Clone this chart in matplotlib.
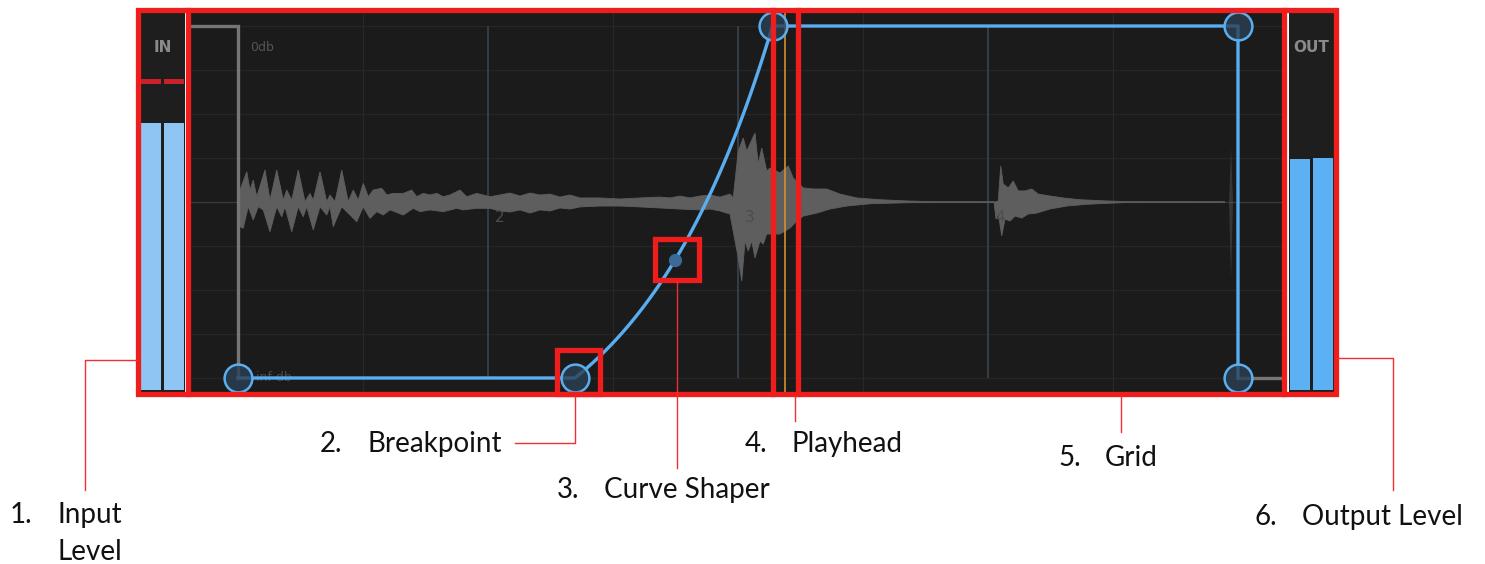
import numpy as np
import matplotlib.pyplot as plt
from matplotlib.patches import Rectangle

W, H = 1485, 564

# envelope editor data: x in beats, y in level (0 = inf db, 1 = 0 db)
env_beats = [1.0, 2.348, 3.138, 5.0, 5.0]
env_levels = [0.0, 0.0, 1.0, 1.0, 0.0]
shaper_beat = 2.748
shaper_level = 0.335
idle_pre_beats = [0.80, 1.0, 1.0]
idle_pre_levels = [1.0, 1.0, 0.0]
idle_post_beats = [5.0, 5.19]
idle_post_levels = [0.0, 0.0]
playhead_beat = 3.188

major_beats = [2, 3, 4]
beat_labels = ['2', '3', '4']
minor_beats = [1.5, 2.5, 3.5, 4.5]
level_lines = [0, 0.125, 0.25, 0.375, 0.5, 0.625, 0.75, 0.875, 1.0]

# waveform peaks: (beat, amplitude above / below centre, 1 = full)
wave_top = [(1.0, 0), (1.008, 0.068), (1.035, 0.172), (1.048, 0.068), (1.061, 0.125),
            (1.075, 0.030), (1.108, 0.182), (1.128, 0.011), (1.155, 0.182), (1.181, 0.011),
            (1.195, 0.068), (1.215, 0.011), (1.241, 0.182), (1.268, 0.002), (1.288, 0.049),
            (1.301, 0.011), (1.328, 0.172), (1.355, 0.002), (1.368, 0.040), (1.388, 0.002),
            (1.415, 0.182), (1.441, 0.002), (1.461, 0.068), (1.481, 0.011), (1.501, 0.106),
            (1.521, 0.030), (1.541, 0.068), (1.575, 0.078), (1.595, 0.040), (1.621, 0.049),
            (1.661, 0.049), (1.695, 0.068), (1.715, 0.030), (1.741, 0.049), (1.768, 0.040),
            (1.795, 0.049), (1.821, 0.030), (1.848, 0.040), (1.888, 0.068), (1.915, 0.030),
            (1.955, 0.049), (2.008, 0.030), (2.048, 0.040), (2.088, 0.051), (2.128, 0.034),
            (2.168, 0.051), (2.208, 0.040), (2.248, 0.045), (2.288, 0.028), (2.328, 0.040),
            (2.368, 0.023), (2.448, 0.023), (2.528, 0.017), (2.608, 0.023), (2.688, 0.028),
            (2.728, 0.023), (2.768, 0.034), (2.808, 0.023), (2.848, 0.034), (2.888, 0.040),
            (2.928, 0.028), (2.968, 0.045), (2.981, 0.024), (3.001, 0.290), (3.021, 0.364),
            (3.035, 0.290), (3.048, 0.330), (3.068, 0.392), (3.081, 0.216), (3.095, 0.307),
            (3.115, 0.176), (3.128, 0.193), (3.168, 0.165), (3.201, 0.205), (3.221, 0.136),
            (3.261, 0.080), (3.301, 0.074), (3.355, 0.074), (3.408, 0.045), (3.475, 0.023),
            (3.568, 0.013), (3.675, 0.006), (3.768, 0.002), (4.028, 0.0), (4.041, 0.006),
            (4.051, 0.205), (4.061, 0.102), (4.081, 0.080), (4.101, 0.119), (4.121, 0.063),
            (4.148, 0.063), (4.175, 0.074), (4.201, 0.045), (4.248, 0.034), (4.301, 0.023),
            (4.368, 0.013), (4.475, 0.006), (4.568, 0.002), (4.948, 0.0)]
wave_bot = [(1.0, 0), (1.008, 0.140), (1.021, 0.149), (1.041, 0.027), (1.061, 0.102),
            (1.081, 0.027), (1.101, 0.045), (1.128, 0.169), (1.155, 0.027), (1.175, 0.084),
            (1.188, 0.027), (1.215, 0.169), (1.241, 0.027), (1.261, 0.084), (1.275, 0.027),
            (1.301, 0.159), (1.328, 0.027), (1.355, 0.074), (1.368, 0.027), (1.381, 0.140),
            (1.415, 0.027), (1.435, 0.055), (1.475, 0.112), (1.501, 0.027), (1.528, 0.093),
            (1.555, 0.055), (1.581, 0.074), (1.608, 0.045), (1.661, 0.074), (1.701, 0.036),
            (1.728, 0.055), (1.768, 0.045), (1.821, 0.055), (1.875, 0.036), (1.901, 0.045),
            (1.955, 0.036), (2.008, 0.036), (2.048, 0.051), (2.088, 0.057), (2.128, 0.045),
            (2.168, 0.063), (2.208, 0.045), (2.248, 0.051), (2.288, 0.034), (2.328, 0.040),
            (2.368, 0.028), (2.448, 0.023), (2.528, 0.023), (2.608, 0.028), (2.688, 0.034),
            (2.768, 0.040), (2.848, 0.045), (2.888, 0.040), (2.928, 0.051), (2.968, 0.068),
            (3.001, 0.318), (3.015, 0.449), (3.028, 0.222), (3.041, 0.278), (3.055, 0.222),
            (3.068, 0.318), (3.088, 0.222), (3.101, 0.239), (3.115, 0.182), (3.168, 0.182),
            (3.208, 0.148), (3.235, 0.108), (3.261, 0.080), (3.315, 0.063), (3.368, 0.040),
            (3.435, 0.023), (3.528, 0.010), (3.675, 0.004), (3.768, 0.002), (4.024, 0.0),
            (4.032, 0.097), (4.041, 0.063), (4.055, 0.193), (4.068, 0.097), (4.088, 0.108),
            (4.108, 0.080), (4.135, 0.091), (4.161, 0.068), (4.195, 0.063), (4.248, 0.040),
            (4.315, 0.023), (4.395, 0.013), (4.501, 0.006), (4.568, 0.002), (4.948, 0.0)]
click_beat = 4.972
click_top, click_bot = 0.31, 0.44

# meters (fraction of meter height)
meter_in = [0.706, 0.706]
meter_in_peak = [0.816, 0.816]
meter_out = [0.611, 0.615]

notes = ['Input', 'Breakpoint', 'Curve Shaper', 'Playhead', 'Grid', 'Output Level']

red = '#f01d1d'
blue = '#5aaef0'


def box(x0, y0, x1, y1):
    return [x0 / W, 1 - y1 / H, (x1 - x0) / W, (y1 - y0) / H]


def bare(a, bg):
    a.set_facecolor(bg)
    a.set_xticks([])
    a.set_yticks([])
    for s in a.spines.values():
        s.set_visible(False)


fig = plt.figure(figsize=(W / 100, H / 100), dpi=100)
fig.patch.set_facecolor('white')

# ---- envelope editor ----
ax = fig.add_axes(box(190, 12, 1283, 392))
bare(ax, '#1b1b1b')
ax.set_xlim(0.808, 5.18)
ax.set_ylim(-0.0398, 1.0398)

for lv in level_lines:
    ax.axhline(lv, color='#3a3a3a' if lv == 0.5 else '#262626', lw=0.9, zorder=1)
for b in minor_beats:
    ax.axvline(b, color='#282828', lw=0.9, zorder=1)
ax.vlines(major_beats, 0, 1, color='#3c4752', lw=1.1, zorder=1)
for b, lab in zip(major_beats, beat_labels):
    ax.text(b + 0.048, 0.455, lab, ha='center', va='center', color='#4d4d4d', fontsize=11, zorder=2.5)

tx = np.array([p[0] for p in wave_top])
ta = np.array([p[1] for p in wave_top])
bx_ = np.array([p[0] for p in wave_bot])
ba = np.array([p[1] for p in wave_bot])
ax.fill(np.concatenate([tx, bx_[::-1]]), np.concatenate([0.5 + 0.5 * ta, 0.5 - 0.5 * ba[::-1]]),
        color='#5e5e5e', ec='#5e5e5e', lw=0.6, zorder=2)
ax.fill([click_beat - 0.008, click_beat, click_beat + 0.008, click_beat],
        [0.5, 0.5 + 0.5 * click_top, 0.5, 0.5 - 0.5 * click_bot], color='#6a6a6a', alpha=0.35, lw=0, zorder=2)

ax.plot(idle_pre_beats, idle_pre_levels, color='#767676', lw=2.4, zorder=3, solid_joinstyle='miter')
ax.plot(idle_post_beats, idle_post_levels, color='#767676', lw=2.4, zorder=3)
ax.text(1.048, 0.94, '0db', color='#555555', fontsize=9, va='center', zorder=3)
ax.text(1.07, 0.0, 'inf db', color='#4a4a4a', fontsize=9, va='center', zorder=3)

# curve segment: exponential shape whose steepness is set by the shaper handle
b0, b1 = env_beats[1], env_beats[2]
ts = (shaper_beat - b0) / (b1 - b0)
ks = np.linspace(0.01, 8, 4000)
k = ks[np.argmin(np.abs((np.exp(ks * ts) - 1) / (np.exp(ks) - 1) - shaper_level))]
t = np.linspace(0, 1, 120)
cx = b0 + t * (b1 - b0)
cy = env_levels[1] + (np.exp(k * t) - 1) / (np.exp(k) - 1) * (env_levels[2] - env_levels[1])
line_x = np.concatenate([[env_beats[0]], cx, env_beats[3:]])
line_y = np.concatenate([[env_levels[0]], cy, env_levels[3:]])
ax.plot(line_x, line_y, color=blue, lw=2.4, zorder=4)

ax.axvline(playhead_beat, color='#d68f2e', lw=1.2, zorder=4.5)
ax.plot(env_beats, env_levels, 'o', ms=20, mfc=(0.17, 0.25, 0.33, 0.8), mec=blue, mew=1.8,
        zorder=6, clip_on=False)
ax.plot([shaper_beat], [shaper_level], 'o', ms=8.5, color='#3b6a98', zorder=6)

# ---- level meters ----
for rect, vals, col, title in [((140, 12, 185, 392), meter_in, '#8fc5f3', 'IN'),
                               ((1289, 12, 1334, 392), meter_out, '#5cb0f4', 'OUT')]:
    m = fig.add_axes(box(*rect))
    bare(m, '#1e1e1e')
    m.set_xlim(-0.5, 1.5)
    m.set_ylim(-0.0053, 1.0)
    m.bar([0, 1], vals, width=0.9, color=col, zorder=2)
    m.text(0.5, 0.907, title, ha='center', va='center', color='#8a8a8a', fontsize=11,
           fontweight='bold', family='DejaVu Sans')
    if title == 'IN':
        m.bar([0, 1], [0.013, 0.013], bottom=np.array(meter_in_peak) - 0.0065, width=0.9,
              color='#c9202a', zorder=2)

# ---- annotation overlay in pixel coordinates ----
ov = fig.add_axes([0, 0, 1, 1], zorder=10)
ov.set_xlim(0, W)
ov.set_ylim(H, 0)
ov.axis('off')


def to_px(x, y):
    dx, dy = ax.transData.transform((x, y))
    return dx, H - dy


lwf = 3.8
ov.add_patch(Rectangle((137.5, 9.5), 1198.5, 384.5, fill=False, ec=red, lw=lwf))
for xv in [188, 1284]:
    ov.plot([xv, xv], [9.5, 394], color=red, lw=lwf)
phx, _ = to_px(playhead_beat, 0)
for xv in [phx - 12.5, phx + 12.5]:
    ov.plot([xv, xv], [9.5, 394], color=red, lw=lwf)
bpx, bpy = to_px(env_beats[1], env_levels[1])
ov.add_patch(Rectangle((bpx - 18.5, bpy - 28), 43.5, 44, fill=False, ec=red, lw=lwf))
spx, spy = to_px(shaper_beat, shaper_level)
ov.add_patch(Rectangle((spx - 20, spy - 21), 44, 41, fill=False, ec=red, lw=lwf))

lead = dict(color='#f03030', lw=1.0)
ov.plot([137, 85, 85], [360, 360, 490], **lead)
ov.plot([bpx, bpx, 515], [396, 443, 443], **lead)
ov.plot([spx + 2, spx + 2], [281, 468], **lead)
ov.plot([phx + 10, phx + 10], [396, 421], **lead)
ov.plot([1121, 1121], [396, 432], **lead)
ov.plot([1336, 1393, 1393], [358, 358, 490], **lead)

txt = dict(family='Lato', fontsize=20, color='#111111', va='baseline')
spots = [(10, 523), (320, 452), (557, 498), (745, 452), (1058, 466), (1255, 525)]
for i, ((x0, y0), lab) in enumerate(zip(spots, notes)):
    ov.text(x0, y0, f'{i + 1}.', **txt)
    ov.text(x0 + 47, y0, lab, **txt)
ov.text(spots[0][0] + 47, 560, 'Level', **txt)

fig.savefig('out.png', dpi=100)
